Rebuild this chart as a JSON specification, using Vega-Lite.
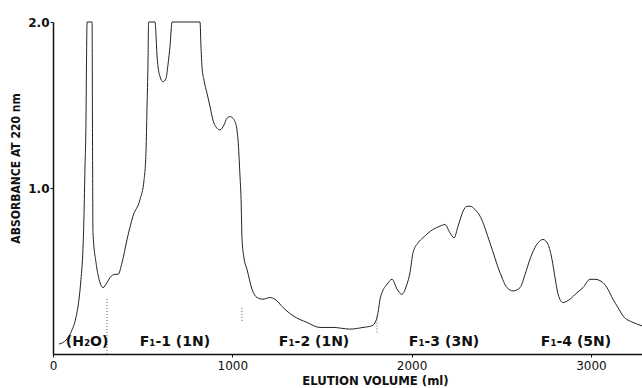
{
  "$schema": "https://vega.github.io/schema/vega-lite/v6.json",
  "width": 589,
  "height": 332,
  "autosize": {"type": "none"},
  "padding": {"left": 53, "top": 22, "right": 0, "bottom": 34},
  "background": "white",
  "config": {"view": {"stroke": null}},
  "datasets": {
    "curve": [
      {"v": 33, "a": 0.06}, {"v": 73, "a": 0.084}, {"v": 100, "a": 0.13}, {"v": 128, "a": 0.22},
      {"v": 145, "a": 0.33}, {"v": 156, "a": 0.45}, {"v": 167, "a": 0.63}, {"v": 173, "a": 0.84},
      {"v": 178, "a": 1.11}, {"v": 184, "a": 1.41}, {"v": 187, "a": 1.77}, {"v": 190, "a": 2.0},
      {"v": 218, "a": 2.0}, {"v": 220, "a": 1.41}, {"v": 223, "a": 0.73}, {"v": 240, "a": 0.55},
      {"v": 257, "a": 0.45}, {"v": 279, "a": 0.40}, {"v": 301, "a": 0.43}, {"v": 318, "a": 0.46},
      {"v": 346, "a": 0.48}, {"v": 363, "a": 0.48}, {"v": 385, "a": 0.55}, {"v": 413, "a": 0.69},
      {"v": 446, "a": 0.83}, {"v": 485, "a": 0.93}, {"v": 508, "a": 1.05}, {"v": 519, "a": 1.23},
      {"v": 524, "a": 1.47}, {"v": 530, "a": 1.77}, {"v": 533, "a": 2.0}, {"v": 569, "a": 2.0},
      {"v": 574, "a": 1.93}, {"v": 580, "a": 1.80}, {"v": 586, "a": 1.73}, {"v": 597, "a": 1.67},
      {"v": 614, "a": 1.64}, {"v": 630, "a": 1.66}, {"v": 641, "a": 1.74}, {"v": 653, "a": 1.86},
      {"v": 664, "a": 2.0}, {"v": 820, "a": 2.0}, {"v": 825, "a": 1.86}, {"v": 831, "a": 1.73},
      {"v": 842, "a": 1.65}, {"v": 859, "a": 1.57}, {"v": 876, "a": 1.49}, {"v": 892, "a": 1.41},
      {"v": 915, "a": 1.36}, {"v": 931, "a": 1.35}, {"v": 954, "a": 1.38}, {"v": 970, "a": 1.42},
      {"v": 987, "a": 1.43}, {"v": 1004, "a": 1.42}, {"v": 1015, "a": 1.40}, {"v": 1026, "a": 1.35},
      {"v": 1032, "a": 1.29}, {"v": 1043, "a": 1.07}, {"v": 1049, "a": 0.93}, {"v": 1054, "a": 0.70},
      {"v": 1065, "a": 0.58}, {"v": 1082, "a": 0.51}, {"v": 1110, "a": 0.39}, {"v": 1138, "a": 0.34},
      {"v": 1171, "a": 0.33}, {"v": 1210, "a": 0.34}, {"v": 1238, "a": 0.33}, {"v": 1283, "a": 0.28},
      {"v": 1339, "a": 0.23}, {"v": 1417, "a": 0.19}, {"v": 1489, "a": 0.16}, {"v": 1562, "a": 0.16},
      {"v": 1656, "a": 0.15}, {"v": 1729, "a": 0.16}, {"v": 1779, "a": 0.17}, {"v": 1801, "a": 0.20},
      {"v": 1813, "a": 0.25}, {"v": 1824, "a": 0.33}, {"v": 1835, "a": 0.37}, {"v": 1863, "a": 0.42},
      {"v": 1891, "a": 0.45}, {"v": 1919, "a": 0.39}, {"v": 1946, "a": 0.36}, {"v": 1974, "a": 0.42},
      {"v": 1991, "a": 0.49}, {"v": 2008, "a": 0.61}, {"v": 2036, "a": 0.67}, {"v": 2063, "a": 0.70},
      {"v": 2119, "a": 0.75}, {"v": 2158, "a": 0.77}, {"v": 2186, "a": 0.78}, {"v": 2214, "a": 0.73},
      {"v": 2237, "a": 0.70}, {"v": 2259, "a": 0.77}, {"v": 2287, "a": 0.86}, {"v": 2309, "a": 0.89},
      {"v": 2326, "a": 0.89}, {"v": 2354, "a": 0.87}, {"v": 2382, "a": 0.83}, {"v": 2437, "a": 0.67},
      {"v": 2493, "a": 0.49}, {"v": 2532, "a": 0.40}, {"v": 2566, "a": 0.38}, {"v": 2605, "a": 0.40},
      {"v": 2633, "a": 0.48}, {"v": 2660, "a": 0.57}, {"v": 2705, "a": 0.67}, {"v": 2733, "a": 0.69},
      {"v": 2761, "a": 0.66}, {"v": 2783, "a": 0.57}, {"v": 2800, "a": 0.46}, {"v": 2817, "a": 0.36},
      {"v": 2844, "a": 0.31}, {"v": 2883, "a": 0.33}, {"v": 2923, "a": 0.37}, {"v": 2956, "a": 0.40},
      {"v": 2995, "a": 0.45}, {"v": 3023, "a": 0.45}, {"v": 3067, "a": 0.43}, {"v": 3095, "a": 0.39},
      {"v": 3123, "a": 0.33}, {"v": 3151, "a": 0.28}, {"v": 3179, "a": 0.23}, {"v": 3235, "a": 0.19},
      {"v": 3285, "a": 0.17}
    ],
    "seps": [
      {"v": 301, "a": 0.0, "a2": 0.34},
      {"v": 1054, "a": 0.20, "a2": 0.28},
      {"v": 1807, "a": 0.13, "a2": 0.23}
    ],
    "labels": [
      {"v": 190, "a": 0.075, "t": "(H₂O)"},
      {"v": 680, "a": 0.075, "t": "F₁-1  (1N)"},
      {"v": 1456, "a": 0.075, "t": "F₁-2  (1N)"},
      {"v": 2181, "a": 0.075, "t": "F₁-3  (3N)"},
      {"v": 2917, "a": 0.075, "t": "F₁-4  (5N)"}
    ]
  },
  "encoding": {
    "x": {
      "field": "v", "type": "quantitative",
      "scale": {"domain": [0, 3285], "nice": false, "zero": false},
      "axis": {
        "title": "ELUTION VOLUME (ml)",
        "values": [0, 1000, 2000, 3000],
        "format": "d",
        "grid": false,
        "domainColor": "#111", "domainWidth": 1.5,
        "tickColor": "#111", "tickSize": 3, "tickWidth": 1,
        "labelFont": "DejaVu Sans", "labelFontSize": 12, "labelColor": "#111",
        "labelPadding": 3, "labelFlush": false,
        "titleFont": "DejaVu Sans Condensed", "titleFontWeight": "bold", "titleFontSize": 13,
        "titleColor": "#111", "titleX": 322, "titleY": 26, "titleBaseline": "middle", "titleAnchor": null
      }
    },
    "y": {
      "field": "a", "type": "quantitative",
      "scale": {"domain": [0, 2], "nice": false},
      "axis": {
        "title": "ABSORBANCE AT 220 nm",
        "values": [1, 2],
        "format": ".1f",
        "grid": false,
        "domainColor": "#111", "domainWidth": 1.5,
        "tickColor": "#111", "tickSize": 3, "tickWidth": 1,
        "labelFont": "DejaVu Sans", "labelFontSize": 12, "labelFontWeight": "bold", "labelColor": "#111",
        "labelPadding": 1,
        "titleFont": "DejaVu Sans Condensed", "titleFontWeight": "bold", "titleFontSize": 12,
        "titleColor": "#111", "titleX": -38, "titleY": 146, "titleAngle": -90, "titleBaseline": "middle", "titleAnchor": null
      }
    }
  },
  "layer": [
    {
      "data": {"name": "curve"},
      "mark": {"type": "line", "interpolate": "monotone", "color": "#222", "strokeWidth": 1},
      "encoding": {"order": {"field": "v", "type": "quantitative"}}
    },
    {
      "data": {"name": "seps"},
      "mark": {"type": "rule", "color": "#555", "strokeWidth": 1, "strokeDash": [1, 2]},
      "encoding": {"y2": {"field": "a2"}}
    },
    {
      "data": {"name": "labels"},
      "mark": {"type": "text", "font": "DejaVu Sans", "fontWeight": "bold", "fontSize": 14, "color": "#111", "baseline": "middle", "align": "center"},
      "encoding": {"text": {"field": "t"}}
    }
  ]
}
